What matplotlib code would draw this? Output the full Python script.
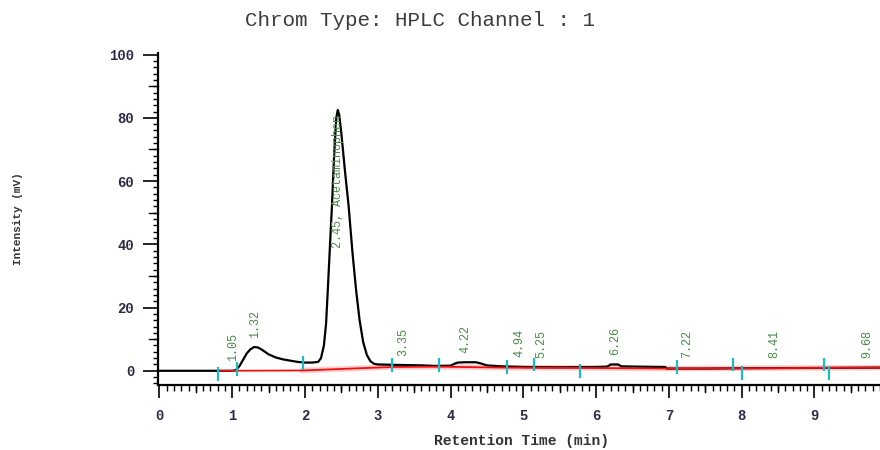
import matplotlib
matplotlib.use("Agg")
import matplotlib.pyplot as plt
from matplotlib.ticker import MultipleLocator
import numpy as np

# signal (min, mV)
time = [0.0, 0.5, 1.0, 1.05, 1.1, 1.15, 1.2, 1.25, 1.3, 1.35, 1.4, 1.45, 1.5,
        1.6, 1.7, 1.8, 1.9, 2.0, 2.1, 2.18, 2.22, 2.26, 2.29, 2.31, 2.34, 2.37,
        2.40, 2.43, 2.45, 2.47, 2.50, 2.55, 2.60, 2.65, 2.70, 2.75, 2.80, 2.85,
        2.90, 2.95, 3.0, 3.2, 3.4, 3.6, 3.8, 4.0, 4.05, 4.1, 4.2, 4.35, 4.42,
        4.5, 4.7, 5.0, 5.5, 6.0, 6.15, 6.2, 6.3, 6.35, 6.6, 6.95, 6.97, 7.5,
        8.0, 9.0, 9.9]
intensity = [0.0, 0.0, 0.0, 0.2, 1.5, 3.5, 5.5, 6.8, 7.5, 7.4, 6.8, 6.0, 5.2,
             4.2, 3.6, 3.2, 2.8, 2.6, 2.6, 2.8, 4.0, 8.0, 15.0, 24.0, 38.0, 52.0,
             68.0, 80.0, 82.5, 81.0, 75.0, 63.0, 52.0, 38.0, 26.0, 16.0, 9.0, 5.0,
             3.0, 2.2, 2.0, 1.9, 1.8, 1.7, 1.5, 1.6, 2.2, 2.6, 2.7, 2.7, 2.3,
             1.7, 1.4, 1.2, 1.1, 1.2, 1.3, 2.0, 2.0, 1.4, 1.3, 1.2, 0.7, 0.7,
             0.8, 0.9, 1.0]

# integration baseline
base_t = [0.81, 1.97, 3.19, 3.84, 4.77, 5.78, 7.11, 9.9]
base_y = [0.0, 0.1, 1.2, 1.3, 1.0, 0.9, 0.7, 1.0]

# peak start / end markers (time, level)
mark_t = [0.81, 1.06, 1.97, 3.19, 3.84, 4.77, 5.14, 5.78, 7.11, 7.88, 8.01, 9.13, 9.2]
mark_y = [-1.0, 0.5, 2.6, 1.8, 1.8, 1.3, 2.0, 0.0, 1.2, 2.0, -0.6, 2.0, -0.6]

# peak labels
peak_t = [1.02, 1.32, 3.35, 4.21, 4.94, 5.25, 6.26, 7.25, 8.45, 9.72]
peak_lbl = ["1.05", "1.32", "3.35", "4.22", "4.94", "5.25", "6.26", "7.22", "8.41", "9.68"]
peak_h = [0.2, 7.5, 1.8, 2.7, 1.3, 1.2, 2.0, 0.9, 0.9, 1.0]
main_t, main_h, main_lbl = 2.45, 82.5, "2.45, Acetaminophen"

mono = "Liberation Mono"
tick_col = "#2b2b45"
lbl_col = "#4a8a4a"

fig = plt.figure(figsize=(8.8, 4.5), dpi=100)
ax = fig.add_axes([0.1795, 0.1444, 0.8205, 0.7378])

ax.plot(time, intensity, color="black", lw=1.6, zorder=3)
ax.plot(base_t[1:], base_y[1:], color="#ff9a9a", lw=4, alpha=0.5, zorder=2)
ax.plot(base_t, base_y, color="#ee1111", lw=1.3, zorder=4)

for t, y in zip(mark_t, mark_y):
    ax.vlines(t, y - 2.2, y + 2.2, color="#1bbcc4", lw=1.6, zorder=5)

for t, lab, h in zip(peak_t, peak_lbl, peak_h):
    ax.text(t, h + 3.0, lab, rotation=90, ha="center", va="bottom",
            fontsize=8.5, family=mono, color=lbl_col, zorder=6)
ax.text(main_t, main_h - 1.5, main_lbl, rotation=90, ha="center", va="top",
        fontsize=8.5, family=mono, color=lbl_col, zorder=6)

ax.set_xlim(-0.02, 9.9)
ax.set_ylim(-4.5, 100.5)

for s in ["top", "right"]:
    ax.spines[s].set_visible(False)
for s in ["left", "bottom"]:
    ax.spines[s].set_linewidth(1.6)

ax.xaxis.set_major_locator(MultipleLocator(1))
ax.xaxis.set_minor_locator(MultipleLocator(0.1))
ax.yaxis.set_major_locator(MultipleLocator(20))
ax.yaxis.set_minor_locator(MultipleLocator(2))
ax.tick_params(axis="x", which="major", direction="out", length=9, width=1.2,
               pad=8, labelsize=10, labelcolor=tick_col)
ax.tick_params(axis="x", which="minor", direction="out", length=4.5, width=1.0)
ax.tick_params(axis="y", which="major", direction="out", length=11, width=1.2,
               pad=6, labelsize=10, labelcolor=tick_col)
ax.tick_params(axis="y", which="minor", direction="out", length=3.5, width=1.0)
for lab in ax.get_xticklabels() + ax.get_yticklabels():
    lab.set_family(mono)
    lab.set_fontweight("bold")

# medium ticks at half-minutes and at tens
xt = ax.get_xaxis_transform()
for t in np.arange(0.5, 9.9, 1.0):
    ax.plot([t, t], [0, -0.021], transform=xt, color="black", lw=1.0, clip_on=False)
yt = ax.get_yaxis_transform()
for v in np.arange(10, 100, 20):
    ax.plot([0, -0.013], [v, v], transform=yt, color="black", lw=1.0, clip_on=False)

ax.set_xlabel("Retention Time (min)", family=mono, fontweight="bold",
              fontsize=10.5, color="#333333", va="center")
ax.xaxis.set_label_coords(0.503, -0.169)
ax.set_ylabel("Intensity (mV)", family=mono, fontweight="bold",
              fontsize=8, color="#333333", va="center")
ax.yaxis.set_label_coords(-0.194, 0.5)

fig.text(0.477, 0.955, "Chrom Type: HPLC Channel : 1", family=mono,
         fontsize=15, color="#3c3c3c", ha="center", va="center")

fig.savefig("out.png", dpi=100)
